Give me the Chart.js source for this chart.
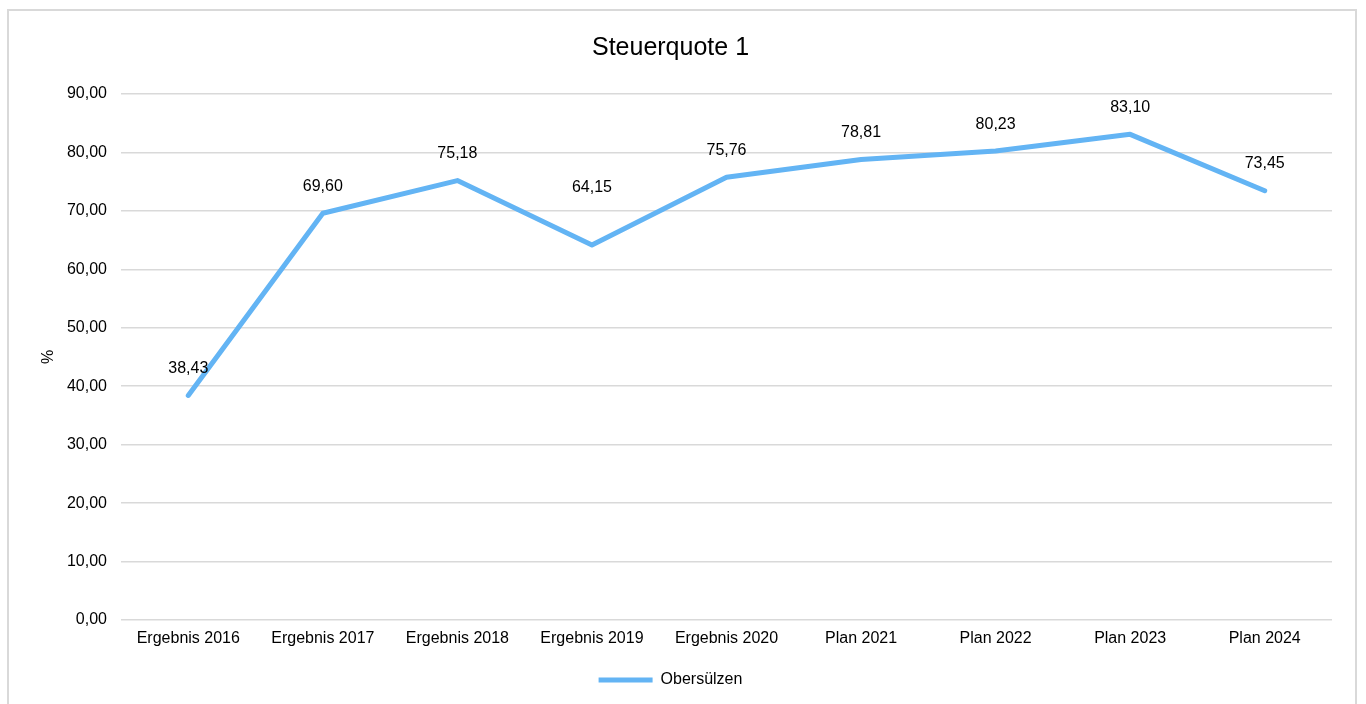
<!DOCTYPE html>
<html>
<head>
<meta charset="utf-8">
<script src="https://cdn.jsdelivr.net/npm/chart.js@4/dist/chart.umd.min.js"></script>
<style>
    body { margin: 0; background: #fff; overflow: hidden; }
    #frame {
        position: absolute; left: 7px; top: 9px;
        width: 1350px; height: 720px;
        border: 2px solid #d9d9d9;
        box-sizing: border-box;
    }
    #wrap { position: absolute; left: 0; top: 0; width: 1346px; height: 693px; }
</style>
</head>
<body>
<div id="frame"><div id="wrap"><canvas id="steuerquote"></canvas></div></div>
<script>
const categories = ["Ergebnis 2016", "Ergebnis 2017", "Ergebnis 2018", "Ergebnis 2019", "Ergebnis 2020", "Plan 2021", "Plan 2022", "Plan 2023", "Plan 2024"];
const obersuelzen = [38.43, 69.60, 75.18, 64.15, 75.76, 78.81, 80.23, 83.10, 73.45];
const yTicks = [0, 10, 20, 30, 40, 50, 60, 70, 80, 90];

const fmt = (v) => v.toFixed(2).replace('.', ',');
const FONT = "'Liberation Sans', Arial, sans-serif";
const LINE_COLOR = '#63b4f4';
// extra lift for labels that would sit on the line
const labelLift = [0, 0, 0, 30, 0, 0, 0, 0, 0];

// simple value labels above each point
const valueLabels = {
    id: 'valueLabels',
    afterDatasetsDraw(chart) {
        const ctx = chart.ctx;
        const meta = chart.getDatasetMeta(0);
        ctx.save();
        ctx.font = '16px ' + FONT;
        ctx.fillStyle = '#000';
        ctx.textAlign = 'center';
        ctx.textBaseline = 'middle';
        meta.data.forEach((pt, i) => {
            ctx.fillText(fmt(obersuelzen[i]), pt.x, pt.y - 27 - labelLift[i]);
        });
        ctx.restore();
    }
};

const ctx = document.getElementById('steuerquote').getContext('2d');

new Chart(ctx, {
    type: 'line',
    data: {
        labels: categories,
        datasets: [
            {
                label: 'Obersülzen',
                data: obersuelzen,
                borderColor: LINE_COLOR,
                backgroundColor: LINE_COLOR,
                borderWidth: 5,
                borderCapStyle: 'round',
                borderJoinStyle: 'round',
                pointRadius: 0,
                tension: 0
            }
        ]
    },
    options: {
        responsive: true,
        maintainAspectRatio: false,
        animation: false,
        layout: { padding: { left: 0, right: 23, top: 0, bottom: 6 } },
        plugins: {
            tooltip: { enabled: false },
            title: {
                display: true,
                text: 'Steuerquote 1',
                color: '#000',
                font: { family: FONT, size: 25, weight: 'normal' },
                padding: { top: 22, bottom: 31 }
            },
            legend: {
                display: true,
                position: 'bottom',
                labels: {
                    color: '#000',
                    font: { family: FONT, size: 16 },
                    boxWidth: 54,
                    boxHeight: 5,
                    padding: 12,
                    useBorderRadius: true,
                    borderRadius: 2.5,
                    generateLabels: (chart) => [{
                        text: 'Obersülzen',
                        fillStyle: LINE_COLOR,
                        strokeStyle: LINE_COLOR,
                        lineWidth: 0,
                        datasetIndex: 0,
                        fontColor: '#000'
                    }]
                }
            }
        },
        scales: {
            x: {
                offset: true,
                grid: { display: false, drawTicks: false },
                border: { display: false },
                ticks: {
                    color: '#000',
                    font: { family: FONT, size: 16 },
                    padding: 9,
                    maxRotation: 0,
                    autoSkip: false
                },
                afterFit: (scale) => { scale.height = 40; }
            },
            y: {
                min: 0,
                max: 90,
                afterBuildTicks: (scale) => { scale.ticks = yTicks.map(v => ({ value: v })); },
                grid: { color: '#d9d9d9', lineWidth: 1.5, drawTicks: false },
                border: { display: false },
                ticks: {
                    color: '#000',
                    font: { family: FONT, size: 16 },
                    padding: 14,
                    callback: (v) => fmt(v)
                },
                title: {
                    display: true,
                    text: '%',
                    color: '#000',
                    font: { family: FONT, size: 16 },
                    padding: { top: 30, bottom: 0 }
                },
                afterFit: (scale) => { scale.width = 112; }
            }
        }
    },
    plugins: [valueLabels]
});
</script>
</body>
</html>
